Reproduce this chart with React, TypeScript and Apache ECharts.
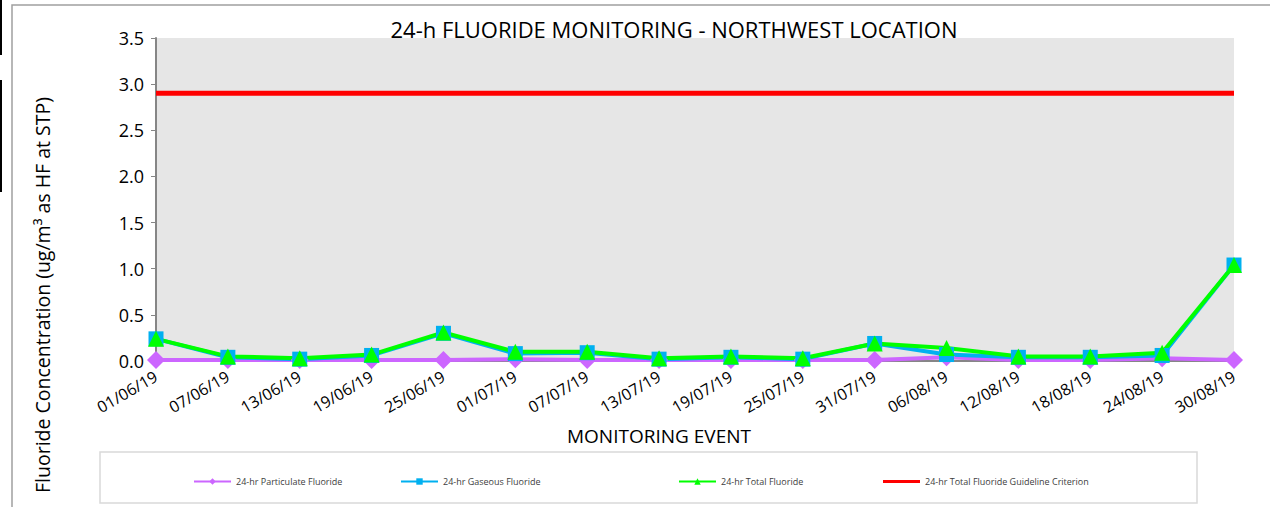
import React, { useEffect, useRef } from "react";
import * as echarts from "echarts";

const categories = [
  "01/06/19", "07/06/19", "13/06/19", "19/06/19", "25/06/19", "01/07/19", "07/07/19", "13/07/19",
  "19/07/19", "25/07/19", "31/07/19", "06/08/19", "12/08/19", "18/08/19", "24/08/19", "30/08/19",
];
const particulate = [0.01, 0.01, 0.01, 0.01, 0.01, 0.02, 0.01, 0.01, 0.01, 0.01, 0.01, 0.04, 0.01, 0.01, 0.03, 0.01];
const gaseous = [0.24, 0.04, 0.02, 0.06, 0.30, 0.08, 0.09, 0.02, 0.04, 0.02, 0.19, 0.07, 0.04, 0.04, 0.06, 1.04];
const total = [0.24, 0.05, 0.03, 0.07, 0.31, 0.10, 0.10, 0.03, 0.05, 0.03, 0.19, 0.14, 0.05, 0.05, 0.09, 1.04];
const guideline = categories.map(() => 2.9);
const yTicks = { min: 0, max: 3.5, interval: 0.5 };

const FONT = "'Liberation Sans Narrow', 'Open Sans', sans-serif";

export default function App() {
  const ref = useRef<HTMLDivElement>(null);
  useEffect(() => {
    if (!ref.current) return;
    const chart = echarts.init(ref.current, null, { renderer: "svg" });
    const legendBase = {
      top: 472,
      itemWidth: 37,
      itemHeight: 8,
      textStyle: { fontSize: 9, color: "#404040", fontFamily: FONT },
      selectedMode: false,
    };
    chart.setOption({
      animation: false,
      backgroundColor: "#ffffff",
      title: {
        text: "24-h FLUORIDE MONITORING - NORTHWEST LOCATION",
        left: 669,
        textAlign: "center",
        top: 13,
        textStyle: { fontSize: 22, fontWeight: "normal", color: "#000", fontFamily: FONT },
      },
      grid: {
        left: 156,
        right: 36,
        top: 38,
        bottom: 146,
        show: true,
        backgroundColor: "#e6e6e6",
        borderWidth: 0,
      },
      legend: [
        { ...legendBase, left: 188, data: ["24-hr Particulate Fluoride"] },
        { ...legendBase, left: 395, data: ["24-hr Gaseous Fluoride"] },
        { ...legendBase, left: 673, data: ["24-hr Total Fluoride"] },
        {
          ...legendBase,
          left: 878,
          itemHeight: 3,
          data: [{ name: "24-hr Total Fluoride Guideline Criterion", icon: "rect" }],
        },
      ],
      xAxis: {
        type: "category",
        data: categories,
        boundaryGap: false,
        axisLine: { lineStyle: { color: "#868686", width: 2 } },
        axisTick: { show: false },
        axisLabel: { rotate: 30, fontSize: 16, color: "#000", fontFamily: FONT, margin: 14, interval: 0 },
      },
      yAxis: {
        type: "value",
        min: yTicks.min,
        max: yTicks.max,
        interval: yTicks.interval,
        axisLine: { show: true, lineStyle: { color: "#868686", width: 2 } },
        axisTick: { show: true, length: 5, lineStyle: { color: "#868686" } },
        splitLine: { show: false },
        axisLabel: {
          fontSize: 18,
          color: "#000",
          fontFamily: FONT,
          margin: 12,
          formatter: (v: number) => v.toFixed(1),
        },
      },
      graphic: [
        {
          type: "rect",
          shape: { x: 12, y: 5, width: 1300, height: 520 },
          style: { fill: "none", stroke: "#a0a0a0", lineWidth: 1.5 },
          silent: true,
          z: -10,
        },
        {
          type: "line",
          shape: { x1: 1, y1: 0, x2: 1, y2: 55 },
          style: { stroke: "#000", lineWidth: 2 },
          silent: true,
        },
        {
          type: "line",
          shape: { x1: 1, y1: 80, x2: 1, y2: 192 },
          style: { stroke: "#000", lineWidth: 2 },
          silent: true,
        },
        {
          type: "rect",
          shape: { x: 100, y: 452, width: 1097, height: 51 },
          style: { fill: "none", stroke: "#d9d9d9", lineWidth: 1.5 },
          silent: true,
        },
        {
          type: "text",
          x: 659,
          y: 436,
          style: {
            text: "MONITORING EVENT",
            fontSize: 19,
            fontFamily: FONT,
            fill: "#000",
            align: "center",
            verticalAlign: "middle",
          },
        },
        {
          type: "text",
          x: 42,
          y: 295,
          rotation: Math.PI / 2,
          style: {
            text: "Fluoride Concentration (ug/m³ as HF at STP)",
            fontSize: 19.5,
            fontFamily: FONT,
            fill: "#000",
            align: "center",
            verticalAlign: "middle",
          },
        },
      ],
      series: [
        {
          name: "24-hr Particulate Fluoride",
          type: "line",
          data: particulate,
          symbol: "diamond",
          symbolSize: 18,
          lineStyle: { color: "#cc66ff", width: 4 },
          itemStyle: { color: "#cc66ff" },
        },
        {
          name: "24-hr Gaseous Fluoride",
          type: "line",
          data: gaseous,
          symbol: "rect",
          symbolSize: 15,
          lineStyle: { color: "#00b0f0", width: 4 },
          itemStyle: { color: "#00b0f0" },
        },
        {
          name: "24-hr Total Fluoride",
          type: "line",
          data: total,
          symbol: "triangle",
          symbolSize: 16,
          lineStyle: { color: "#00ff00", width: 4 },
          itemStyle: { color: "#00ff00" },
        },
        {
          name: "24-hr Total Fluoride Guideline Criterion",
          type: "line",
          data: guideline,
          symbol: "none",
          lineStyle: { color: "#ff0000", width: 5 },
          itemStyle: { color: "#ff0000" },
        },
      ],
    });
    return () => chart.dispose();
  }, []);
  return (
    <div
      ref={ref}
      style={{ position: "fixed", left: 0, top: 0, width: 1270, height: 507 }}
    />
  );
}
